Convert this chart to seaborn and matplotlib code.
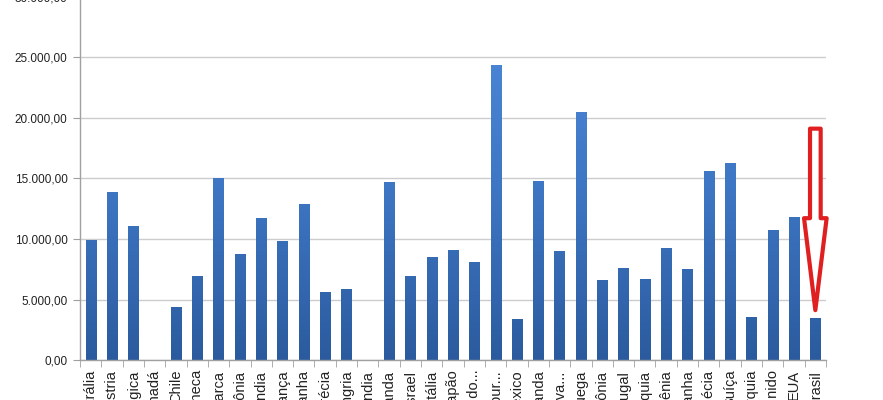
import numpy as np
import pandas as pd
import matplotlib
matplotlib.use("Agg")
import matplotlib.pyplot as plt
from matplotlib.patches import Polygon
from matplotlib.colors import LinearSegmentedColormap
from matplotlib.ticker import FuncFormatter, FixedLocator
import seaborn as sns

paises = ["Austrália", "Áustria", "Bélgica", "Canadá", "Chile", "Rep. Tcheca",
          "Dinamarca", "Estônia", "Finlândia", "França", "Alemanha", "Grécia",
          "Hungria", "Islândia", "Irlanda", "Israel", "Itália", "Japão",
          "Coréia do...", "Luxembur...", "México", "Holanda", "Nova...",
          "Noruega", "Polônia", "Portugal", "Eslováquia", "Eslovênia",
          "Espanha", "Suécia", "Suíça", "Turquia", "Reino Unido", "EUA", "Brasil"]
valores = [9950, 13850, 11070, 0, 4380, 6940,
           15040, 8760, 11730, 9830, 12890, 5620,
           5870, 0, 14710, 6940, 8510, 9090,
           8100, 24380, 3390, 14790, 9000,
           20500, 6610, 7600, 6690, 9250,
           7520, 15620, 16280, 3550, 10740, 11820, 3470]
y_ticks = [0, 5000, 10000, 15000, 20000, 25000, 30000]

df = pd.DataFrame({"pais": paises, "valor": valores})

sns.set_style("white")
plt.rcParams["font.family"] = ["Liberation Sans", "DejaVu Sans"]

fig = plt.figure(figsize=(8.83, 4.0), dpi=100)
ax = fig.add_axes([80 / 883, 40 / 400, (826 - 80) / 883, 363 / 400])

sns.barplot(data=df, x="pais", y="valor", order=paises, color="#3D77C6",
            saturation=1, width=0.48, linewidth=0, ax=ax)

ymax = 30000
ax.set_ylim(0, ymax)
ax.set_xlim(-0.5, len(paises) - 0.5)

# vertical gradient fill (Excel style): darker at bottom, lighter at top
cmap = LinearSegmentedColormap.from_list("bar", ["#2B5B9E", "#3C74C0", "#4A86D6"])
grad = np.linspace(0, 1, 256).reshape(-1, 1)
for p in list(ax.patches):
    if p.get_height() <= 0:
        continue
    x0 = p.get_x()
    x1 = x0 + p.get_width()
    im = ax.imshow(grad, extent=[x0, x1, 0, ymax * 0.85], origin="lower",
                   aspect="auto", cmap=cmap, zorder=2, interpolation="bilinear")
    im.set_clip_path(p)
    p.set_facecolor("none")

ax.set_ylim(0, ymax)
ax.set_xlim(-0.5, len(paises) - 0.5)
ax.set_aspect("auto")
ax.yaxis.set_major_locator(FixedLocator(y_ticks))

def fmt(v, pos):
    s = f"{v:,.2f}"
    return s.replace(",", "X").replace(".", ",").replace("X", ".")

ax.yaxis.set_major_formatter(FuncFormatter(fmt))
ax.grid(axis="y", color="#CCCCCC", linewidth=1.0)
ax.set_axisbelow(True)
ax.set_xlabel("")
ax.set_ylabel("")

for s in ["top", "right"]:
    ax.spines[s].set_visible(False)
for s in ["left", "bottom"]:
    ax.spines[s].set_color("#A0A0A0")
    ax.spines[s].set_linewidth(1.0)

ax.tick_params(axis="y", length=5, color="#A0A0A0", labelsize=8.5,
               labelcolor="#222222", pad=4, left=True)
ax.set_xticks(range(len(paises)))
ax.set_xticklabels(paises, rotation=90, fontsize=10.5, color="#222222",
                   va="top", ha="center")
ax.tick_params(axis="x", which="major", length=0, pad=7)
ax.set_xticks(np.arange(-0.5, len(paises), 1.0), minor=True)
ax.tick_params(axis="x", which="minor", length=5, color="#A0A0A0", bottom=True)

# red outlined arrow pointing to Brasil
ib = paises.index("Brasil")
vb = valores[ib]
tip = vb + 650
head_base = tip + 7600
top = tip + 15000
sw, hw = 0.25, 0.53
pts = [(ib - sw, top), (ib + sw, top), (ib + sw, head_base), (ib + hw, head_base),
       (ib, tip), (ib - hw, head_base), (ib - sw, head_base)]
ax.add_patch(Polygon(pts, closed=True, facecolor="white", edgecolor="#E02020",
                     linewidth=3, joinstyle="round", clip_on=False, zorder=5))

fig.savefig("out.png", dpi=100)
